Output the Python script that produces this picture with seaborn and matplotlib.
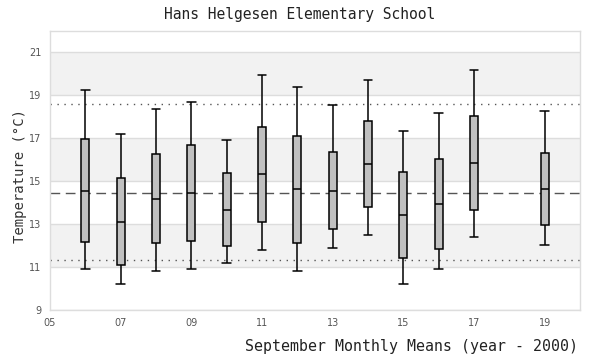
import numpy as np
import pandas as pd
import seaborn as sns
import matplotlib
matplotlib.use('Agg')
import matplotlib.pyplot as plt

# September monthly means per year (year - 2000)
years = [6, 7, 8, 9, 10, 11, 12, 13, 14, 15, 16, 17, 19]
whisk_lo = [10.90, 10.20, 10.80, 10.90, 11.17, 11.78, 10.80, 11.87, 12.48, 10.20, 10.90, 12.39, 12.01]
q1 = [12.15, 11.08, 12.10, 12.23, 11.97, 13.08, 12.10, 12.76, 13.78, 11.41, 11.83, 13.64, 12.94]
median = [14.56, 13.11, 14.18, 14.43, 13.64, 15.32, 14.62, 14.53, 15.78, 13.41, 13.92, 15.86, 14.62]
q3 = [16.95, 15.13, 16.28, 16.67, 15.37, 17.51, 17.09, 16.34, 17.79, 15.41, 16.02, 18.05, 16.33]
whisk_hi = [19.23, 17.21, 18.37, 18.70, 16.90, 19.93, 19.40, 18.53, 19.70, 17.32, 18.20, 20.19, 18.28]

# reference lines: overall mean and upper/lower limits
ref_mean = 14.47
ref_upper = 18.62
ref_lower = 11.31

x_ticks = [5, 7, 9, 11, 13, 15, 17, 19]
x_tick_labels = ['05', '07', '09', '11', '13', '15', '17', '19']
y_ticks = [9, 11, 13, 15, 17, 19, 21]
bands = [(11, 13), (15, 17), (19, 21)]

# five points per year reproduce the box exactly (q1/median/q3 at ranks 2/3/4)
rows = []
for i, yr in enumerate(years):
    for v in (whisk_lo[i], q1[i], median[i], q3[i], whisk_hi[i]):
        rows.append({'year': yr, 'temp': v})
df = pd.DataFrame(rows)

sns.set_style('white')
mono = ['DejaVu Sans Mono']

fig, ax = plt.subplots(figsize=(6, 3.6), dpi=100)
fig.subplots_adjust(left=50 / 600, right=580 / 600, top=1 - 31 / 360, bottom=1 - 310 / 360)

for lo, hi in bands:
    ax.axhspan(lo, hi, color='#f2f2f2', zorder=0, lw=0)
for t in y_ticks:
    ax.axhline(t, color='#dddddd', lw=1, zorder=0.5)

sns.boxplot(data=df, x='year', y='temp', native_scale=True, width=0.22,
            color='#c0c0c0', saturation=1, linecolor='black', linewidth=1.1,
            whis=np.inf, capwidths=0.25, ax=ax, zorder=3)

ax.axhline(ref_upper, color='#555555', lw=1, ls=(0, (1, 4)), zorder=2)
ax.axhline(ref_lower, color='#555555', lw=1, ls=(0, (1, 4)), zorder=2)
ax.axhline(ref_mean, color='#555555', lw=1, ls=(0, (7, 4)), zorder=2)

ax.set_xlim(5, 20)
ax.set_ylim(9, 22)
ax.set_xticks(x_ticks)
ax.set_xticklabels(x_tick_labels)
ax.set_yticks(y_ticks)
ax.tick_params(length=0, labelsize=7, colors='#555555', pad=6)
ax.set_xlabel('')
ax.set_ylabel('')
for s in ax.spines.values():
    s.set_color('#dddddd')
    s.set_linewidth(1)

fig.text(0.5, 1 - 14 / 360, 'Hans Helgesen Elementary School', ha='center', va='center',
         family=mono, fontsize=10.5, color='#222222')
fig.text(578 / 600, 1 - 347 / 360, 'September Monthly Means (year - 2000)', ha='right',
         va='center', family=mono, fontsize=10.7, color='#222222')
fig.text(20 / 600, 1 - 176 / 360, 'Temperature (°C)', ha='center', va='center', rotation=90,
         family=mono, fontsize=10, color='#333333')

fig.savefig('out.png', dpi=100)
